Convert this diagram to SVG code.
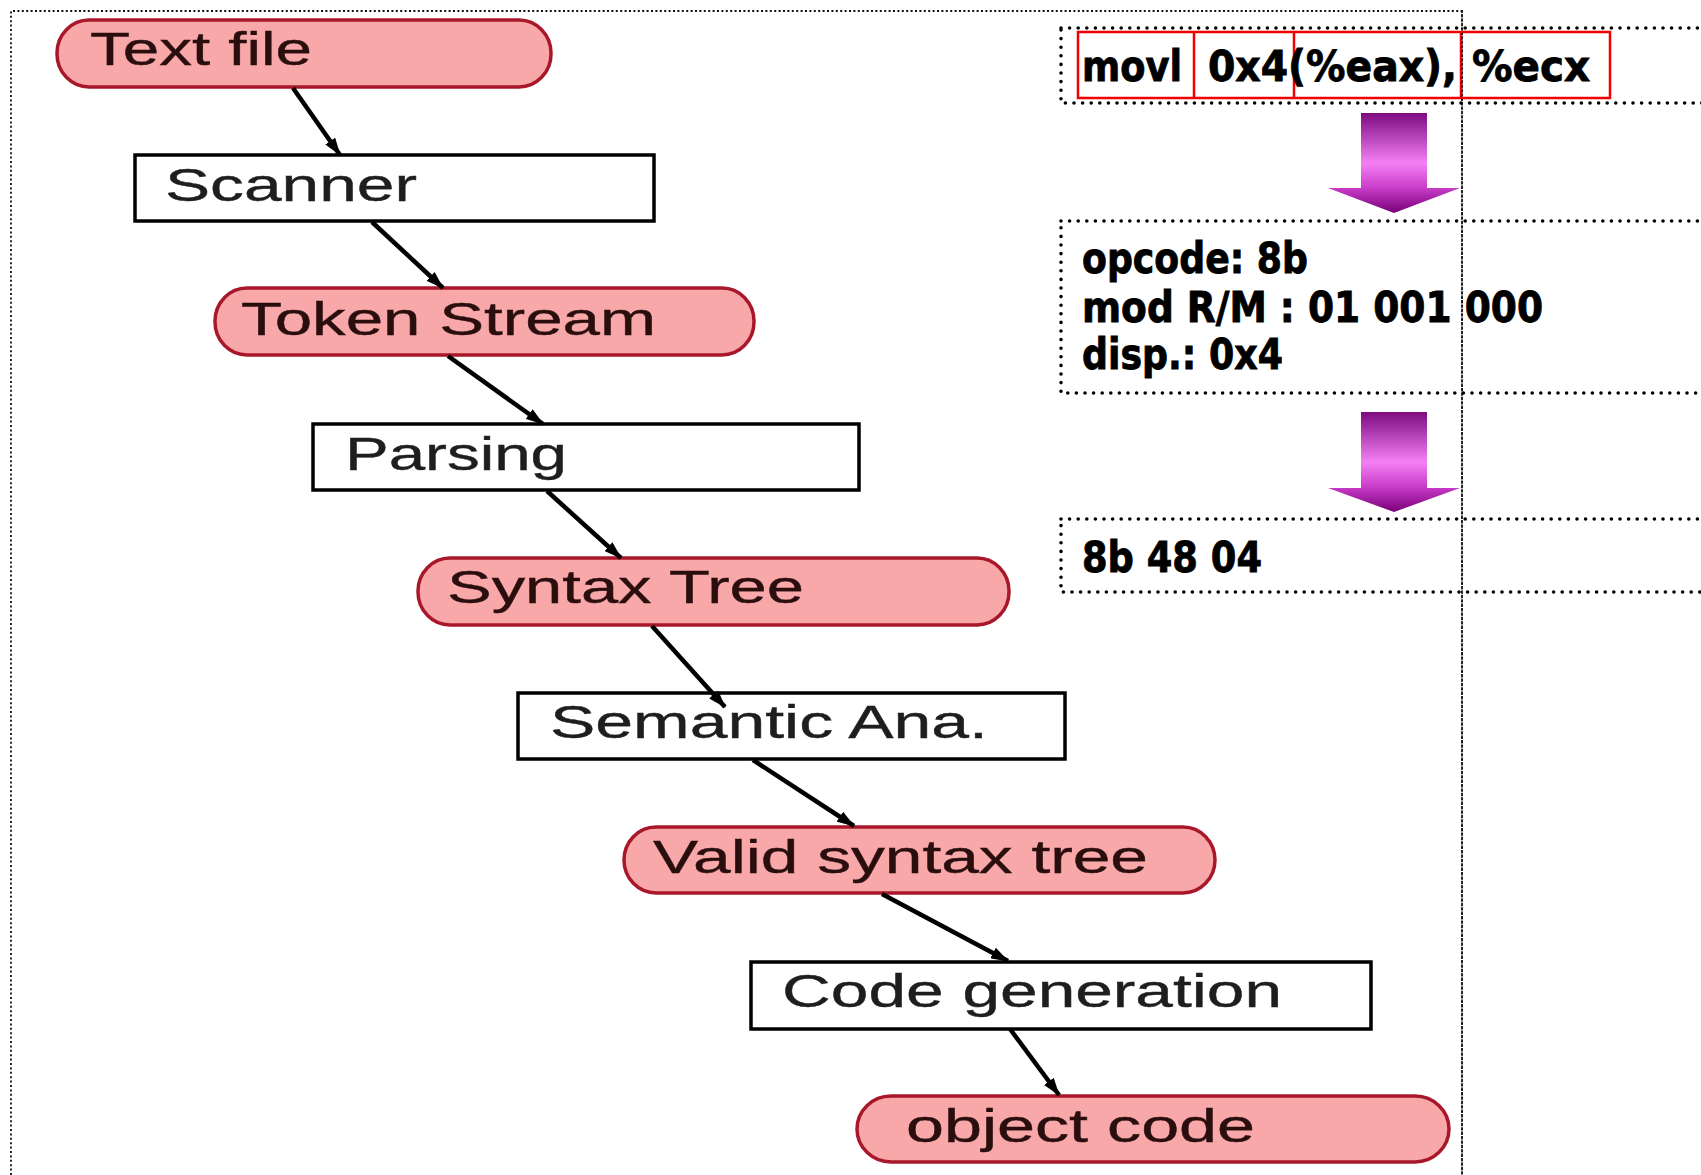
<svg xmlns="http://www.w3.org/2000/svg" width="1701" height="1175" viewBox="0 0 1701 1175">
<style>
.pill{fill:#F9A8AA;stroke:#A8182A;stroke-width:3.5}
.box{fill:#FFFFFF;stroke:#000;stroke-width:3.5}
.lbl{font-family:"Liberation Sans",Arial,sans-serif;font-size:46px;fill:#1E1E1E;stroke:#1E1E1E;stroke-width:0.4}
.plbl{font-family:"Liberation Sans",Arial,sans-serif;font-size:46px;fill:#2A0E0E;stroke:#2A0E0E;stroke-width:0.4}
.code{font-family:"DejaVu Sans","Liberation Sans",sans-serif;font-weight:bold;font-size:38px;fill:#000;stroke:#000;stroke-width:0.8}
.dotbox{fill:none;stroke:#000;stroke-width:3.6;stroke-dasharray:0 8.6;stroke-linecap:round}
.frame{fill:none;stroke:#111;stroke-width:1.8;stroke-dasharray:2 2.4}
.red{fill:none;stroke:#F00000;stroke-width:2.5}
.conn{stroke:#000;stroke-width:4.5;fill:none}
</style>
<defs>
<marker id="ah" viewBox="0 0 18 12" refX="17" refY="6" markerWidth="18" markerHeight="12" orient="auto" markerUnits="userSpaceOnUse">
<path d="M0,0 L18,6 L0,12 z" fill="#000"/>
</marker>
<linearGradient id="pg" x1="0" y1="0" x2="0" y2="1">
<stop offset="0" stop-color="#7E0A80"/>
<stop offset="0.5" stop-color="#F480F4"/>
<stop offset="0.75" stop-color="#C83CC8"/>
<stop offset="1" stop-color="#780078"/>
</linearGradient>
</defs>
<rect width="1701" height="1175" fill="#FFFFFF"/>

<path class="frame" d="M11,1175 L11,11 L1462,11 L1462,1175"/>

<g id="n-textfile">
<rect class="pill" x="57" y="20" width="494" height="67" rx="32" ry="33"/>
<text class="plbl" x="90" y="65" textLength="222" lengthAdjust="spacingAndGlyphs">Text file</text>
</g>
<g id="n-scanner">
<rect class="box" x="135" y="155" width="519" height="66"/>
<text class="lbl" x="165" y="201" textLength="252" lengthAdjust="spacingAndGlyphs">Scanner</text>
</g>
<g id="n-token">
<rect class="pill" x="215" y="288" width="539" height="67" rx="32" ry="33"/>
<text class="plbl" x="241" y="335" textLength="415" lengthAdjust="spacingAndGlyphs">Token Stream</text>
</g>
<g id="n-parsing">
<rect class="box" x="313" y="424" width="546" height="66"/>
<text class="lbl" x="345" y="470" textLength="222" lengthAdjust="spacingAndGlyphs">Parsing</text>
</g>
<g id="n-syntax">
<rect class="pill" x="418" y="558" width="591" height="67" rx="32" ry="33"/>
<text class="plbl" x="447" y="603" textLength="357" lengthAdjust="spacingAndGlyphs">Syntax Tree</text>
</g>
<g id="n-semantic">
<rect class="box" x="518" y="693" width="547" height="66"/>
<text class="lbl" x="550" y="738" textLength="438" lengthAdjust="spacingAndGlyphs">Semantic Ana.</text>
</g>
<g id="n-valid">
<rect class="pill" x="624" y="827" width="591" height="66" rx="32" ry="33"/>
<text class="plbl" x="653" y="873" textLength="495" lengthAdjust="spacingAndGlyphs">Valid syntax tree</text>
</g>
<g id="n-codegen">
<rect class="box" x="751" y="962" width="620" height="67"/>
<text class="lbl" x="782" y="1007" textLength="500" lengthAdjust="spacingAndGlyphs">Code generation</text>
</g>
<g id="n-object">
<rect class="pill" x="857" y="1096" width="592" height="66" rx="34" ry="33"/>
<text class="plbl" x="906" y="1142" textLength="349" lengthAdjust="spacingAndGlyphs">object code</text>
</g>

<g id="connectors">
<line class="conn" x1="293" y1="88" x2="340" y2="155" marker-end="url(#ah)"/>
<line class="conn" x1="372" y1="222" x2="443" y2="288" marker-end="url(#ah)"/>
<line class="conn" x1="448" y1="356" x2="543" y2="424" marker-end="url(#ah)"/>
<line class="conn" x1="547" y1="491" x2="621" y2="558" marker-end="url(#ah)"/>
<line class="conn" x1="652" y1="626" x2="725" y2="707" marker-end="url(#ah)"/>
<line class="conn" x1="753" y1="760" x2="854" y2="826" marker-end="url(#ah)"/>
<line class="conn" x1="882" y1="894" x2="1008" y2="961" marker-end="url(#ah)"/>
<line class="conn" x1="1010" y1="1029" x2="1059" y2="1095" marker-end="url(#ah)"/>
</g>

<g id="n-asm">
<rect class="dotbox" x="1061" y="28" width="700" height="75"/>
<rect class="red" x="1078" y="32" width="532" height="66"/>
<line class="red" x1="1194" y1="32" x2="1194" y2="98"/>
<line class="red" x1="1294" y1="32" x2="1294" y2="98"/>
<line class="red" x1="1461" y1="32" x2="1461" y2="98"/>
<text class="code" transform="translate(1082,81) scale(1,1.12)" x="0" y="0" textLength="100" lengthAdjust="spacingAndGlyphs">movl</text>
<text class="code" transform="translate(1208,81) scale(1,1.12)" x="0" y="0" textLength="249" lengthAdjust="spacingAndGlyphs">0x4(%eax),</text>
<text class="code" transform="translate(1472,81) scale(1,1.12)" x="0" y="0" textLength="118" lengthAdjust="spacingAndGlyphs">%ecx</text>
</g>
<g id="n-arrow1">
<polygon points="1361,113 1427,113 1427,188 1460,188 1394,213 1328,188 1361,188" fill="url(#pg)"/>
</g>
<g id="n-fields">
<rect class="dotbox" x="1061" y="221" width="700" height="172"/>
<text class="code" transform="translate(1082,273) scale(1,1.12)" x="0" y="0" textLength="226" lengthAdjust="spacingAndGlyphs">opcode: 8b</text>
<text class="code" transform="translate(1082,322) scale(1,1.12)" x="0" y="0" textLength="461" lengthAdjust="spacingAndGlyphs">mod R/M : 01 001 000</text>
<text class="code" transform="translate(1082,369) scale(1,1.12)" x="0" y="0" textLength="201" lengthAdjust="spacingAndGlyphs">disp.: 0x4</text>
</g>
<g id="n-arrow2">
<polygon points="1361,412 1427,412 1427,488 1460,488 1394,512 1328,488 1361,488" fill="url(#pg)"/>
</g>
<g id="n-bytes">
<rect class="dotbox" x="1061" y="519" width="700" height="73"/>
<text class="code" transform="translate(1082,572) scale(1,1.12)" x="0" y="0" textLength="180" lengthAdjust="spacingAndGlyphs">8b 48 04</text>
</g>
<line x1="1462" y1="11" x2="1462" y2="1175" class="frame"/>
</svg>
